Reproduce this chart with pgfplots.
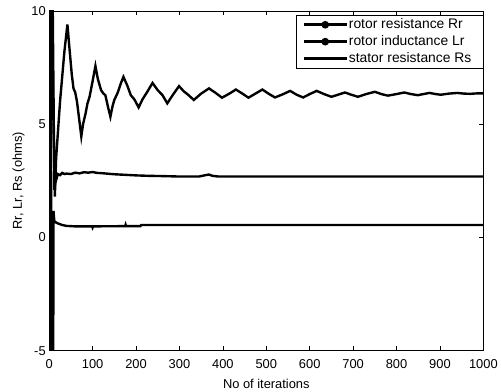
\documentclass[border=0pt]{standalone}
\usepackage{pgfplots}
\pgfplotsset{compat=1.18}
\usepackage{fontspec}
\setmainfont{Liberation Sans}
\newcommand{\ff}{\fontsize{13}{15}\selectfont}
\newcommand{\lf}{\fontsize{14}{16}\selectfont}
\newcommand{\legtxt}[1]{\makebox[128bp][l]{#1}}
\pgfplotsset{
  dotleg/.style={legend image code/.code={\draw[##1, line width=2.6bp] (0bp,0bp) -- (43bp,0bp); \fill[black] (21.5bp,0bp) circle (2.6bp);}},
  lineleg/.style={legend image code/.code={\draw[##1, line width=2.6bp] (0bp,0bp) -- (43bp,0bp);}},
}
\begin{document}
\begin{tikzpicture}
\begin{axis}[
  name=ax, at={(0,0)}, anchor=south west,
  scale only axis, width=437bp, height=342bp,
  xmin=0, xmax=1000, ymin=-5, ymax=10,
  xtick={0,100,...,1000}, ytick={-5,0,5,10},
  /pgf/number format/assume math mode=true,
  /pgf/number format/1000 sep={},
  tick label style={font=\ff},
  xticklabel style={yshift=-5bp},
  label style={font=\ff},
  xlabel style={yshift=-4bp},
  major tick length=4.5bp,
  tick style={line width=0.6bp, black},
  axis line style={line width=0.8bp},
  xlabel={No of iterations},
  ylabel={Rr, Lr, Rs (ohms)},
  legend style={at={(rel axis cs:1,0.988)}, anchor=north east,
    font=\lf, draw=black, line width=0.7bp,
    inner xsep=6bp, inner ysep=1bp,
    nodes={inner xsep=1bp, inner ysep=1.5bp, text height=11bp, text depth=3bp}},
  legend cell align=left,
]
\addplot[black, line width=2.4bp, dotleg] coordinates {
(0,0.5)(1,11)(2,-6)(3,11)(5,9.3)(6,9.2)(13,1.8)(16,3.5)(25,6.0)(35,8.2)(42,9.4)(46,8.5)(52,7.2)(56,6.58)(60,6.4)(64,6.0)(74,4.46)(78,5.0)(84,5.49)(88,5.9)(93,6.21)(100,6.9)(106.5,7.57)(112,7.0)(119.6,6.5)(125,6.35)(129.4,6.28)(135,5.8)(141,5.33)(146,5.8)(150,6.07)(158,6.4)(165,6.8)(171,7.09)(180,6.7)(188,6.28)(196,6.1)(206,5.74)(215,6.1)(225,6.4)(238,6.82)(250,6.5)(261,6.28)(272,5.92)(285,6.3)(299,6.68)(310,6.45)(320,6.3)(333,6.07)(350,6.35)(368,6.58)(382,6.4)(398,6.17)(415,6.35)(430,6.53)(445,6.35)(459,6.17)(475,6.35)(491,6.53)(505,6.35)(520,6.18)(538,6.32)(555,6.47)(570,6.3)(585,6.18)(600,6.33)(616,6.47)(633,6.33)(650,6.21)(665,6.3)(681,6.40)(696,6.3)(711,6.21)(730,6.33)(750,6.43)(765,6.33)(780,6.26)(800,6.33)(818,6.40)(833,6.33)(849,6.28)(862,6.33)(876,6.38)(890,6.33)(902,6.30)(920,6.35)(940,6.38)(955,6.35)(970,6.34)(985,6.36)(1000,6.36)
};
\addlegendentry{\legtxt{rotor resistance Rr}}
\addplot[black, line width=2.4bp, dotleg] coordinates {
(0,2)(1,-7)(2,12)(3,-7)(4,12)(6,11)(8,10.5)(12,2.1)(14,2.4)(17,2.6)(20,2.8)(25,2.75)(30,2.85)(35,2.8)(40,2.82)(50,2.8)(60,2.86)(70,2.83)(80,2.88)(90,2.86)(100,2.89)(110,2.85)(120,2.84)(150,2.79)(180,2.76)(200,2.74)(230,2.72)(260,2.71)(300,2.69)(345,2.69)(360,2.75)(368,2.78)(376,2.72)(390,2.69)(1000,2.69)
};
\addlegendentry{\legtxt{rotor inductance Lr}}
\addplot[black, line width=2.4bp, lineleg] coordinates {
(0,0)(1,-8)(2,11)(3,-8)(4,8)(5,-8)(6,-7)(7,-8)(8,-7)(9,-8)(10,1.17)(11,0.9)(12,0.72)(15,0.67)(20,0.62)(30,0.55)(40,0.51)(60,0.49)(99,0.49)(100,0.44)(101,0.49)(175,0.5)(176,0.56)(177,0.5)(210,0.5)(212,0.55)(1000,0.55)
};
\addlegendentry{\legtxt{stator resistance Rs}}
\end{axis}
\path[use as bounding box] (-49.5bp,-40bp) rectangle (451.5bp,353bp);
\end{tikzpicture}
\end{document}
